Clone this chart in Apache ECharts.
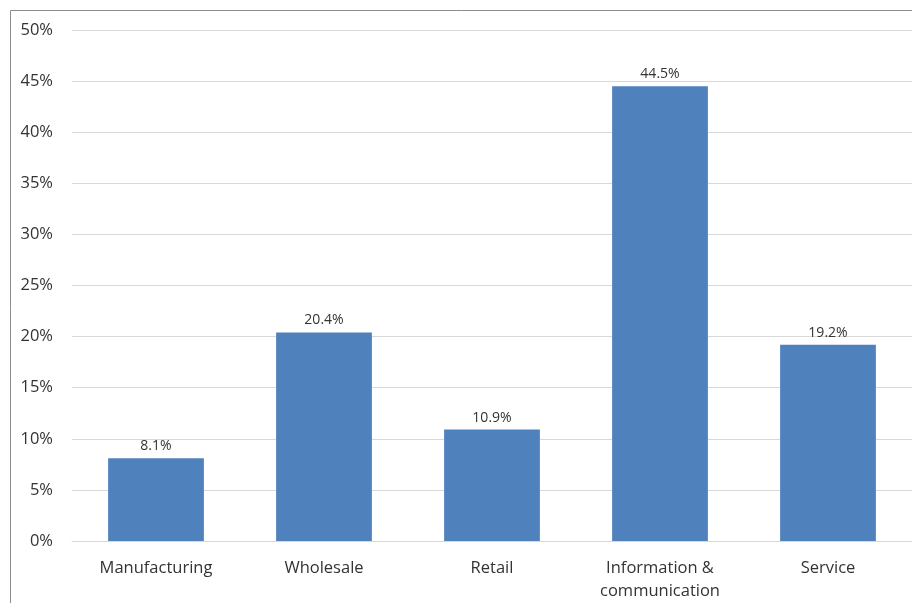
<!DOCTYPE html>
<html><head><meta charset="utf-8">
<script src="https://cdn.jsdelivr.net/npm/echarts@6/dist/echarts.min.js"></script>
<style>html,body{margin:0;padding:0;background:#fff}#c{width:912px;height:603px}</style>
</head><body><div id="c"></div>
<script>
const categories = ['Manufacturing', 'Wholesale', 'Retail', 'Information &\ncommunication', 'Service'];
const values = [8.1, 20.4, 10.9, 44.5, 19.2];
const yTicks = [0, 5, 10, 15, 20, 25, 30, 35, 40, 45, 50];

const chart = echarts.init(document.getElementById('c'), null, {renderer: 'canvas'});
chart.setOption({
  animation: false,
  backgroundColor: '#fff',
  textStyle: {fontFamily: 'Open Sans'},
  graphic: [{
    type: 'polyline',
    shape: {points: [[10.5, 620], [10.5, 10.5], [930, 10.5]]},
    style: {stroke: '#8c8c8c', lineWidth: 1, fill: null},
    silent: true
  }],
  grid: {left: 72, right: 0, top: 30, bottom: 61, containLabel: false},
  xAxis: {
    type: 'category',
    data: categories,
    axisLine: {lineStyle: {color: '#d9d9d9', width: 1}},
    axisTick: {show: false},
    axisLabel: {color: '#333', fontSize: 16.5, margin: 16, lineHeight: 23, interval: 0}
  },
  yAxis: {
    type: 'value',
    min: yTicks[0], max: yTicks[yTicks.length - 1], interval: 5,
    axisLine: {show: false},
    axisTick: {show: false},
    splitLine: {lineStyle: {color: '#d9d9d9', width: 1}},
    axisLabel: {color: '#333', fontSize: 16.5, margin: 19, formatter: v => v + '%'}
  },
  series: [{
    type: 'bar',
    data: values,
    barWidth: '57%',
    itemStyle: {color: '#4f81bd'},
    label: {show: true, position: 'top', distance: 5, color: '#333', fontSize: 14, formatter: p => p.value.toFixed(1) + '%'}
  }]
});
</script></body></html>
